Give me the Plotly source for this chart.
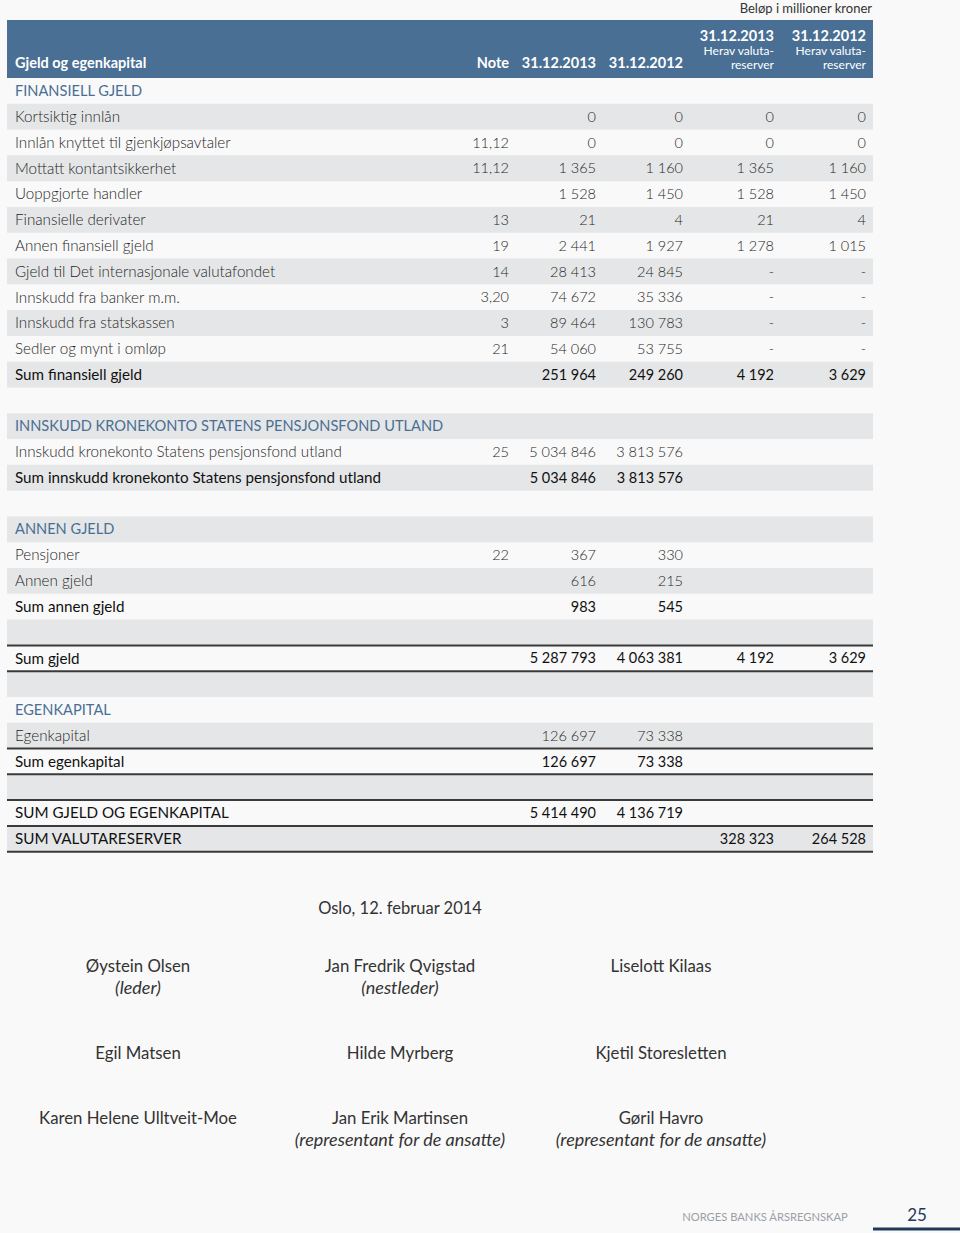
import plotly.graph_objects as go

# ---------------- data ----------------
row_labels = [
    "FINANSIELL GJELD",
    "Kortsiktig innlån",
    "Innlån knyttet til gjenkjøpsavtaler",
    "Mottatt kontantsikkerhet",
    "Uoppgjorte handler",
    "Finansielle derivater",
    "Annen finansiell gjeld",
    "Gjeld til Det internasjonale valutafondet",
    "Innskudd fra banker m.m.",
    "Innskudd fra statskassen",
    "Sedler og mynt i omløp",
    "Sum finansiell gjeld",
    "",
    "INNSKUDD KRONEKONTO STATENS PENSJONSFOND UTLAND",
    "Innskudd kronekonto Statens pensjonsfond utland",
    "Sum innskudd kronekonto Statens pensjonsfond utland",
    "",
    "ANNEN GJELD",
    "Pensjoner",
    "Annen gjeld",
    "Sum annen gjeld",
    "",
    "Sum gjeld",
    "",
    "EGENKAPITAL",
    "Egenkapital",
    "Sum egenkapital",
    "",
    "SUM GJELD OG EGENKAPITAL",
    "SUM VALUTARESERVER",
]
row_kinds = [
    "section", "item", "item", "item", "item", "item", "item", "item", "item", "item", "item", "sum",
    "blank", "section", "item", "sum", "blank", "section", "item", "item", "sum", "blank",
    "sum", "blank", "section", "item", "sum", "blank", "sum", "sum",
]
notes = ["", "", "11,12", "11,12", "", "13", "19", "14", "3,20", "3", "21", "",
         "", "", "25", "", "", "", "22", "", "", "", "", "", "", "", "", "", "", ""]
val_2013 = [None, 0, 0, 1365, 1528, 21, 2441, 28413, 74672, 89464, 54060, 251964,
            None, None, 5034846, 5034846, None, None, 367, 616, 983, None,
            5287793, None, None, 126697, 126697, None, 5414490, None]
val_2012 = [None, 0, 0, 1160, 1450, 4, 1927, 24845, 35336, 130783, 53755, 249260,
            None, None, 3813576, 3813576, None, None, 330, 215, 545, None,
            4063381, None, None, 73338, 73338, None, 4136719, None]
res_2013 = [None, 0, 0, 1365, 1528, 21, 1278, "-", "-", "-", "-", 4192,
            None, None, None, None, None, None, None, None, None, None,
            4192, None, None, None, None, None, None, 328323]
res_2012 = [None, 0, 0, 1160, 1450, 4, 1015, "-", "-", "-", "-", 3629,
            None, None, None, None, None, None, None, None, None, None,
            3629, None, None, None, None, None, None, 264528]
ruled_rows = [22, 26, 28, 29]

header_cols = ["Note", "31.12.2013", "31.12.2012"]
reserve_headers = [("31.12.2013", "Herav valuta-", "reserver"),
                   ("31.12.2012", "Herav valuta-", "reserver")]

signatures = [
    ("Øystein Olsen", "(leder)"),
    ("Jan Fredrik Qvigstad", "(nestleder)"),
    ("Liselott Kilaas", ""),
    ("Egil Matsen", ""),
    ("Hilde Myrberg", ""),
    ("Kjetil Storesletten", ""),
    ("Karen Helene Ulltveit-Moe", ""),
    ("Jan Erik Martinsen", "(representant for de ansatte)"),
    ("Gøril Havro", "(representant for de ansatte)"),
]
place_date = "Oslo, 12. februar 2014"
unit_text = "Beløp i millioner kroner"
footer_text = "NORGES BANKS ÅRSREGNSKAP"
page_no = "25"

# ---------------- layout constants ----------------
W, H = 960, 1233
FONT = "Lato"
BG = "#f9f9f9"
GRAY = "#e5e6e7"
BLUE = "#4a6f94"
NAVY = "#1f3a58"
TX0, TX1 = 7, 873
ROW0, ROWH = 78, 25.79
LABEL_X = 15
COL_RIGHT = [509, 596, 683, 774, 866]
DY = 1.5  # vertical text nudge


def fmt(v):
    if v is None:
        return ""
    if isinstance(v, str):
        return v
    return f"{v:,}".replace(",", " ")


def yc(i):
    return ROW0 + ROWH * (i + 0.5) + DY


fig = go.Figure()
shapes = []

# header band
shapes.append(dict(type="rect", xref="x", yref="y", x0=TX0, x1=TX1, y0=20, y1=ROW0,
                   fillcolor=BLUE, line_width=0, layer="below"))
# row stripes
for i in range(len(row_labels)):
    if i % 2 == 1:
        shapes.append(dict(type="rect", xref="x", yref="y", x0=TX0, x1=TX1,
                           y0=ROW0 + ROWH * i, y1=ROW0 + ROWH * (i + 1),
                           fillcolor=GRAY, line_width=0, layer="below"))
# rules
for i in ruled_rows:
    for yy in (ROW0 + ROWH * i, ROW0 + ROWH * (i + 1)):
        shapes.append(dict(type="line", xref="x", yref="y", x0=TX0, x1=TX1, y0=yy, y1=yy,
                           line=dict(color="#3a3a3a", width=2)))
# footer line
shapes.append(dict(type="line", xref="x", yref="y", x0=TX1, x1=W, y0=1229, y1=1229,
                   line=dict(color=NAVY, width=3)))

label_styles = {
    "item": dict(color="#262626", size=15.2, weight=300),
    "sum": dict(color="#111111", size=15.2, weight=400),
    "section": dict(color=BLUE, size=14.6, weight=400),
}
num_styles = {
    "item": dict(color="#262626", size=14.5, weight=300),
    "sum": dict(color="#111111", size=14.5, weight=400),
}


def add_text(xs, ys, texts, pos, font):
    fig.add_trace(go.Scatter(x=xs, y=ys, text=texts, mode="text", textposition=pos,
                             textfont=dict(family=FONT, **font), hoverinfo="skip",
                             showlegend=False, cliponaxis=False))


# labels
for kind, st in label_styles.items():
    idx = [i for i, k in enumerate(row_kinds) if k == kind]
    add_text([LABEL_X] * len(idx), [yc(i) for i in idx], [row_labels[i] for i in idx],
             "middle right", st)

# value columns
columns = [notes, val_2013, val_2012, res_2013, res_2012]
for c, col in enumerate(columns):
    for kind in ("item", "sum"):
        idx = [i for i, k in enumerate(row_kinds) if k == kind and fmt(col[i]) != ""]
        if not idx:
            continue
        st = num_styles[kind] if c > 0 else num_styles["item"]
        add_text([COL_RIGHT[c]] * len(idx), [yc(i) for i in idx], [fmt(col[i]) for i in idx],
                 "middle left", st)

# header texts
hdr_font = dict(color="white", size=14.5, weight=700)
add_text([LABEL_X], [63 + DY], ["Gjeld og egenkapital"], "middle right", hdr_font)
add_text(COL_RIGHT[:3], [63 + DY] * 3, header_cols, "middle left", hdr_font)
for c, (d, l1, l2) in enumerate(reserve_headers):
    xr = COL_RIGHT[3 + c]
    add_text([xr], [36 + DY], [d], "middle left", hdr_font)
    add_text([xr, xr], [50 + DY, 64 + DY], [l1, l2], "middle left",
             dict(color="white", size=12, weight=400))

# unit note
add_text([TX1 - 1], [8 + DY], [unit_text], "middle left", dict(color="#333333", size=13, weight=400))

# signatures
txt = "#333333"
add_text([400], [908 + DY], [place_date], "middle center", dict(color=txt, size=16.5, weight=400))
sig_x = [138, 400, 661]
sig_y = [966, 1053, 1118]
for k, (name, role) in enumerate(signatures):
    x = sig_x[k % 3]
    y = sig_y[k // 3] + DY
    add_text([x], [y], [name], "middle center", dict(color=txt, size=16.8, weight=400))
    if role:
        add_text([x], [y + 22], [role], "middle center",
                 dict(color=txt, size=18, weight=400, style="italic"))

# footer
add_text([765], [1217 + DY], [footer_text], "middle center", dict(color="#9aa0a6", size=11.2, weight=400))
add_text([917], [1215 + DY], [page_no], "middle center", dict(color=NAVY, size=17, weight=400))

fig.update_layout(
    width=W, height=H, margin=dict(l=0, r=0, t=0, b=0),
    paper_bgcolor=BG, plot_bgcolor=BG, shapes=shapes,
    xaxis=dict(range=[0, W], visible=False, fixedrange=True),
    yaxis=dict(range=[H, 0], visible=False, fixedrange=True),
    showlegend=False,
)
fig.write_html("out.html", config={"displayModeBar": False},
               post_script="document.body.style.margin='0';document.body.style.overflow='hidden';")
